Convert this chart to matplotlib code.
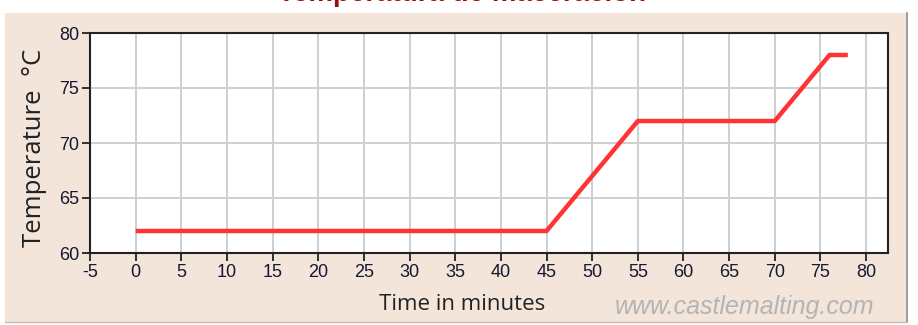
import matplotlib.pyplot as plt
from matplotlib.patches import Rectangle

plt.rcParams['axes.unicode_minus'] = False

# mash temperature profile
time_min = [0, 45, 55, 70, 76, 78]
temp_c = [62, 62, 72, 72, 78, 78]
x_ticks = list(range(-5, 81, 5))
y_ticks = [60, 65, 70, 75, 80]

fig = plt.figure(figsize=(9.18, 3.25), dpi=100)
W, H = 918, 325

# beige panel behind the chart
fig.patches.append(Rectangle((5 / W, 3 / H), 901 / W, 309 / H, transform=fig.transFigure,
                             facecolor='#f4e5da', edgecolor='none', zorder=-10))
fig.lines.append(plt.Line2D([907 / W, 907 / W], [3 / H, 312 / H], transform=fig.transFigure,
                            color='#8a8a8a', lw=1.2, zorder=-5))
fig.lines.append(plt.Line2D([5 / W, 906 / W], [3 / H, 3 / H], transform=fig.transFigure,
                            color='#c8b8ac', lw=1, zorder=-5))

ax = fig.add_axes([90 / W, 72 / H, 798 / W, 220 / H])
ax.set_facecolor('white')
ax.plot(time_min, temp_c, color='#ff3333', lw=3.2, solid_capstyle='butt', zorder=3)

ax.set_xlim(-5, 82.4)
ax.set_ylim(60, 80)
ax.set_xticks(x_ticks)
ax.set_yticks(y_ticks)
ax.grid(True, color='#cfcfcf', lw=1.4)
ax.set_axisbelow(True)
for s in ax.spines.values():
    s.set_color('#222222')
    s.set_linewidth(1.5)
ax.tick_params(direction='out', length=6, width=1.3, color='#222222',
               labelsize=13, labelcolor='#141830', pad=2)
for lab in ax.get_xticklabels() + ax.get_yticklabels():
    lab.set_fontfamily('Liberation Sans')

fig.text(462 / W, 1 - 305 / H, 'Time in minutes', ha='center', va='center',
         fontsize=16, color='#222222', family='Open Sans')
fig.text(35 / W, 1 - 148 / H, 'Temperature  °C', ha='center', va='center', rotation=90,
         fontsize=18.5, color='#222222', family='Open Sans')
fig.text(745 / W, 1 - 307 / H, 'www.castlemalting.com', ha='center', va='center',
         fontsize=18, color='#b4b4b4', style='italic', family='Liberation Sans')

# title, cut off by the top edge as in the source image
fig.text(462 / W, 1 + 6 / H, 'Temperatura de maceración', ha='center', va='center',
         fontsize=20, fontweight='bold', color='#a00c0c', family='Liberation Sans')

fig.savefig('out.png', dpi=100, facecolor='white')
